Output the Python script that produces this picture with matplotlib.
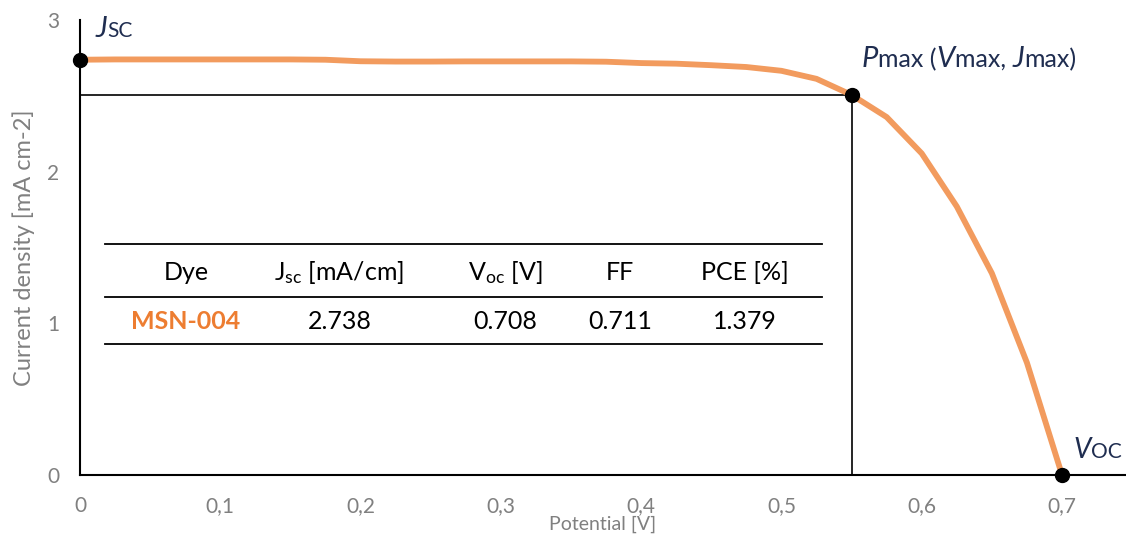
import matplotlib
matplotlib.use("Agg")
import matplotlib.pyplot as plt
from matplotlib import transforms
from matplotlib.ticker import FuncFormatter

plt.rcParams["font.family"] = ["Lato", "DejaVu Sans"]
plt.rcParams["mathtext.fontset"] = "custom"
plt.rcParams["mathtext.rm"] = "Lato"
plt.rcParams["mathtext.it"] = "Lato:italic"

# J-V curve of the cell
potential = [0.0, 0.025, 0.05, 0.075, 0.1, 0.125, 0.15, 0.175, 0.2, 0.225,
             0.25, 0.275, 0.3, 0.325, 0.35, 0.375, 0.4, 0.425, 0.45, 0.475,
             0.5, 0.525, 0.55, 0.575, 0.6, 0.625, 0.65, 0.675, 0.7]
current = [2.738, 2.740, 2.740, 2.740, 2.740, 2.740, 2.740, 2.738, 2.728, 2.726,
           2.726, 2.727, 2.727, 2.727, 2.727, 2.725, 2.716, 2.712, 2.702, 2.690,
           2.665, 2.612, 2.506, 2.36, 2.12, 1.77, 1.33, 0.74, 0.0]

# key points
jsc_point = (0.0, 2.738)
pmax_point = (0.55, 2.506)
voc_point = (0.7, 0.0)

# table
table_header = ["Dye", r"J$_{\mathrm{sc}}$ [mA/cm]", r"V$_{\mathrm{oc}}$ [V]", "FF", "PCE [%]"]
table_row = ["MSN-004", "2.738", "0.708", "0.711", "1.379"]

curve_color = "#F29B5E"
label_color = "#1F2D50"
grey = "#808080"

fig = plt.figure(figsize=(11.26, 5.43), dpi=100)
ax = fig.add_axes([80 / 1126, 68 / 543, 1046 / 1126, 455 / 543])

ax.plot(potential, current, color=curve_color, lw=4.2, zorder=3, solid_joinstyle="round")

# Pmax guide lines
ax.plot([0, pmax_point[0]], [pmax_point[1], pmax_point[1]], color="black", lw=1.2, zorder=2)
ax.plot([pmax_point[0], pmax_point[0]], [0, pmax_point[1]], color="black", lw=1.2, zorder=2)

for pt in (jsc_point, pmax_point, voc_point):
    ax.plot(*pt, "o", color="black", ms=10, zorder=5, clip_on=False)

ax.set_xlim(0, 0.7456)
ax.set_ylim(0, 3)
ax.set_xticks([0, 0.1, 0.2, 0.3, 0.4, 0.5, 0.6, 0.7])
ax.set_yticks([0, 1, 2, 3])
ax.xaxis.set_major_formatter(FuncFormatter(lambda v, p: "0" if v == 0 else f"{v:.1f}".replace(".", ",")))
ax.tick_params(length=0, labelsize=15, labelcolor=grey, pad=15)
for s in ("top", "right"):
    ax.spines[s].set_visible(False)
for s in ("left", "bottom"):
    ax.spines[s].set_linewidth(1.5)
ax.set_xlabel("Potential [V]", fontsize=14, color=grey, labelpad=0)
ax.set_ylabel("Current density [mA cm-2]", fontsize=17, color=grey, labelpad=9)

# table drawn inside the plot
col_x = [0.0756, 0.185, 0.303, 0.385, 0.474]
for yl in (1.523, 1.174, 0.864):
    ax.plot([0.0178, 0.529], [yl, yl], color="black", lw=1.3, zorder=2)
for x, h, v in zip(col_x, table_header, table_row):
    ax.text(x, 1.338, h, ha="center", va="center", fontsize=18)
    bold = v == table_row[0]
    ax.text(x, 1.015, v, ha="center", va="center", fontsize=18,
            fontweight="bold" if bold else "normal",
            color="#ED7D31" if bold else "black")


def rich_label(x, y, parts):
    fig.canvas.draw()
    r = fig.canvas.get_renderer()
    off = 0.0
    for s, size, style in parts:
        tr = transforms.offset_copy(ax.transData, fig=fig, x=off, y=0, units="points")
        t = ax.text(x, y, s, fontsize=size, style=style, color=label_color,
                    ha="left", va="baseline", transform=tr)
        off += t.get_window_extent(r).width * 72 / fig.dpi


rich_label(0.0114, 2.888, [("J", 21, "italic"), ("SC", 15, "normal")])
rich_label(0.557, 2.69, [("P", 21, "italic"), ("max (", 18, "normal"), ("V", 21, "italic"),
                         ("max, ", 18, "normal"), ("J", 21, "italic"), ("max)", 18, "normal")])
rich_label(0.7085, 0.112, [("V", 20, "italic"), ("OC", 15, "normal")])

fig.savefig("out.png", dpi=100)
